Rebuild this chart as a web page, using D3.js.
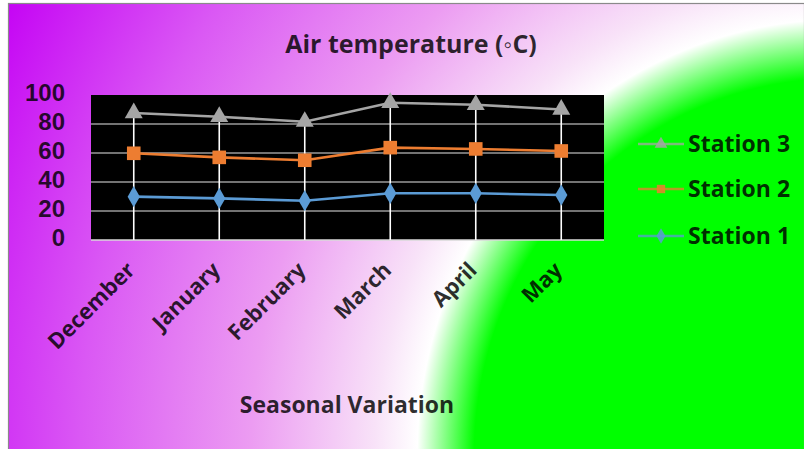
<!DOCTYPE html>
<html>
<head>
<meta charset="utf-8">
<script src="https://cdn.jsdelivr.net/npm/d3@7"></script>
<style>
  html, body { margin: 0; padding: 0; background: #ffffff; }
  svg { display: block; }
  text { font-weight: bold; }
</style>
</head>
<body>
<svg id="chart" width="804" height="449"></svg>
<script>
// Monthly air temperature readings per station
const months = ["December", "January", "February", "March", "April", "May"];
const station1 = [29.9, 28.7, 27.1, 32.2, 32.2, 31.0];
const station2 = [59.8, 57.0, 55.0, 63.7, 62.8, 61.4];
const station3 = [87.6, 85.0, 81.6, 94.7, 93.3, 90.0];
const seriesNames = ["Station 1", "Station 2", "Station 3"];
const yTicks = [0, 20, 40, 60, 80, 100];

const svg = d3.select("#chart");
const W = 804, H = 449;
const ink = { fill: "#000", opacity: 0.82 };
const sans = "\"Open Sans\", \"Noto Sans\", sans-serif";

// Background: radial wash from green (bottom right) through white to purple
const defs = svg.append("defs");
const grad = defs.append("radialGradient")
  .attr("id", "bg")
  .attr("gradientUnits", "userSpaceOnUse")
  .attr("cx", 840).attr("cy", 455).attr("r", 950)
  .attr("fx", 840).attr("fy", 455)
  .attr("gradientTransform", "translate(840,455) scale(1,1.03) translate(-840,-455)");
[
  [0, "#00ff00"], [0.385, "#00ff00"], [0.445, "#ffffff"], [0.49, "#f8e2f8"],
  [0.62, "#ec9cf2"], [0.8, "#da58f4"], [1, "#c400f4"]
].forEach(([o, c]) => grad.append("stop").attr("offset", o).attr("stop-color", c));

svg.append("rect")
  .attr("x", 8.5).attr("y", 3.5).attr("width", W - 8).attr("height", H)
  .attr("fill", "url(#bg)")
  .attr("stroke", "#8a8a8a").attr("stroke-width", 1.2);

const plot = { left: 91, right: 604, top: 95, bottom: 240 };

const x = d3.scalePoint().domain(months).range([plot.left, plot.right]).padding(0.5);
const y = d3.scaleLinear().domain([0, 100]).range([plot.bottom, plot.top]);

// Plot area
svg.append("rect")
  .attr("x", plot.left).attr("y", plot.top)
  .attr("width", plot.right - plot.left).attr("height", plot.bottom - plot.top)
  .attr("fill", "#000000");

// Horizontal gridlines
svg.append("g").selectAll("line")
  .data(yTicks.filter(t => t > 0 && t < 100))
  .join("line")
  .attr("x1", plot.left).attr("x2", plot.right)
  .attr("y1", d => y(d)).attr("y2", d => y(d))
  .attr("stroke", "#9a9a9a").attr("stroke-width", 1.3);

// Bottom axis line
svg.append("line")
  .attr("x1", plot.left).attr("x2", plot.right)
  .attr("y1", plot.bottom).attr("y2", plot.bottom)
  .attr("stroke", "#d9d9d9").attr("stroke-width", 1.5);

// Y axis labels
const yAxis = d3.axisLeft(y).tickValues(yTicks).tickSize(0).tickPadding(0);
const yg = svg.append("g").attr("transform", `translate(65,-2)`).call(yAxis);
yg.select(".domain").remove();
yg.selectAll("text")
  .style("font-size", "24px")
  .style("font-family", "\"Liberation Sans\", Arial, sans-serif")
  .style("font-weight", "bold")
  .attr("fill", ink.fill).attr("fill-opacity", ink.opacity);

// Drop lines from the highest value down to the axis
const highs = months.map((m, i) => Math.max(station1[i], station2[i], station3[i]));
svg.append("g").selectAll("line")
  .data(months)
  .join("line")
  .attr("x1", d => x(d)).attr("x2", d => x(d))
  .attr("y1", (d, i) => y(highs[i])).attr("y2", plot.bottom)
  .attr("stroke", "#ffffff").attr("stroke-width", 1.6);

const series = [
  { name: seriesNames[2], values: station3, color: "#a5a5a5", symbol: d3.symbolTriangle, size: 140 },
  { name: seriesNames[1], values: station2, color: "#ed7d31", symbol: d3.symbolSquare, size: 185 },
  { name: seriesNames[0], values: station1, color: "#5b9bd5", symbol: d3.symbolDiamond, size: 130 }
];

const line = d3.line().x(d => x(d.m)).y(d => y(d.v));

series.forEach(s => {
  const pts = months.map((m, i) => ({ m, v: s.values[i] }));
  svg.append("path")
    .datum(pts)
    .attr("d", line)
    .attr("fill", "none")
    .attr("stroke", s.color).attr("stroke-width", 2.6);
  svg.append("g").selectAll("path")
    .data(pts)
    .join("path")
    .attr("transform", d => `translate(${x(d.m)},${y(d.v)})`)
    .attr("d", d3.symbol(s.symbol, s.size)())
    .attr("fill", s.color);
});

// X axis labels, rotated
const xg = svg.append("g");
months.forEach(m => {
  xg.append("text")
    .attr("transform", `translate(${x(m) - 3},${266}) rotate(-45)`)
    .attr("text-anchor", "end")
    .attr("dy", "0.35em")
    .style("font-family", sans)
    .style("font-size", "22px")
    .attr("fill", ink.fill).attr("fill-opacity", ink.opacity)
    .text(m);
});

// Title and axis title
svg.append("text")
  .attr("x", 411).attr("y", 53)
  .attr("text-anchor", "middle")
  .style("font-family", sans)
  .style("font-size", "25px")
  .attr("fill", ink.fill).attr("fill-opacity", ink.opacity)
  .text("Air temperature (◦C)");

svg.append("text")
  .attr("x", 347).attr("y", 413)
  .attr("text-anchor", "middle")
  .style("font-family", sans)
  .style("font-size", "23px")
  .attr("fill", ink.fill).attr("fill-opacity", ink.opacity)
  .text("Seasonal Variation");

// Legend
const legendY = [144, 189, 236];
const legend = svg.append("g");
series.forEach((s, i) => {
  const g = legend.append("g").attr("transform", `translate(0,${legendY[i]})`);
  g.append("line")
    .attr("x1", 638).attr("x2", 684)
    .attr("stroke", s.color).attr("stroke-width", 2.4).attr("stroke-opacity", 0.75);
  g.append("path")
    .attr("transform", "translate(661,0)")
    .attr("d", d3.symbol(s.symbol, 70)())
    .attr("fill", s.color).attr("fill-opacity", 0.85);
  g.append("text")
    .attr("x", 688).attr("dy", "0.35em")
    .style("font-family", sans)
    .style("font-size", "23px")
    .attr("fill", ink.fill).attr("fill-opacity", ink.opacity)
    .text(s.name);
});
</script>
</body>
</html>
